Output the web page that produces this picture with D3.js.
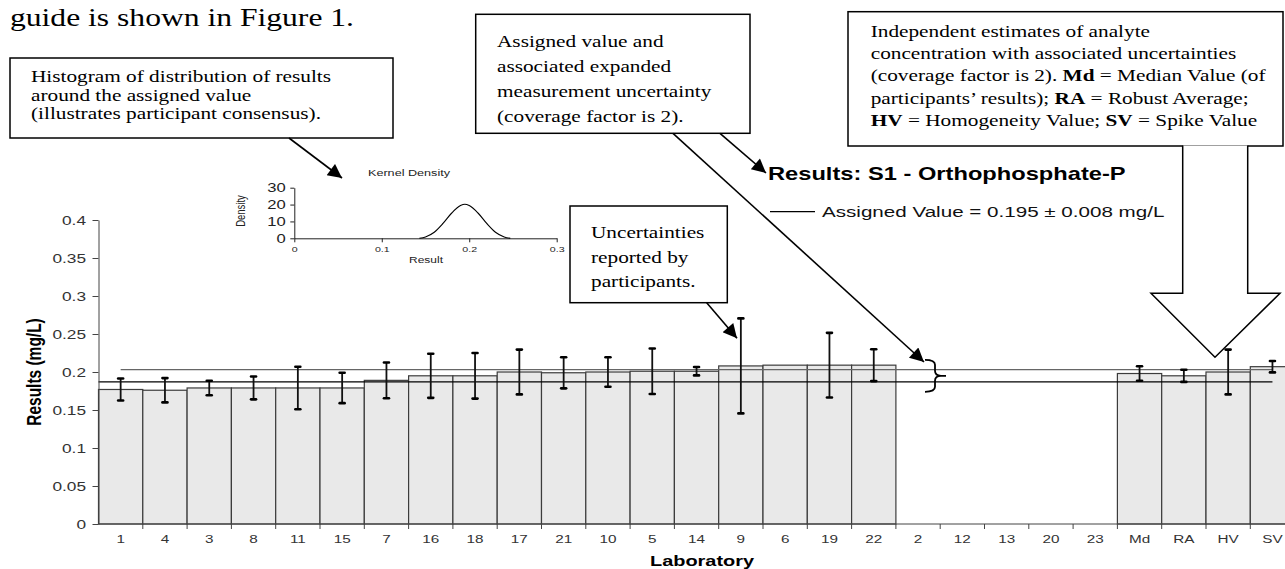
<!DOCTYPE html>
<html>
<head>
<meta charset="utf-8">
<script src="https://cdn.jsdelivr.net/npm/d3@7"></script>
<style>
  body { margin: 0; background: #fff; }
  svg { display: block; }
</style>
</head>
<body>
<svg id="chart" width="1285" height="569"></svg>
<script>
// laboratories in plotted order, results and expanded uncertainties (mg/L)
var labs = ["1","4","3","8","11","15","7","16","18","17","21","10","5","14","9","6","19","22","2","12","13","20","23","Md","RA","HV","SV"];
var results = [0.177,0.176,0.179,0.179,0.179,0.179,0.189,0.195,0.195,0.200,0.199,0.200,0.201,0.201,0.208,0.209,0.209,0.209,null,null,null,null,null,0.198,0.195,0.200,0.207];
var uncert = [0.0145,0.016,0.0095,0.015,0.028,0.020,0.0235,0.029,0.030,0.0295,0.0205,0.0195,0.030,0.0055,0.0625,null,0.0425,0.021,null,null,null,null,null,0.0095,0.008,0.0295,0.0075];
var yTicks = [0,0.05,0.1,0.15,0.2,0.25,0.3,0.35,0.4];

var assigned = 0.195;
var assignedU = 0.008;

// kernel density inset
var densX = [0.143,0.150,0.160,0.170,0.180,0.190,0.195,0.200,0.210,0.220,0.230,0.240,0.247];
var densY = [0,0.8,3.6,8.8,15.0,19.4,20.2,19.4,15.0,8.8,3.6,0.8,0];
var densXTicks = [0,0.1,0.2,0.3];
var densYTicks = [0,10,20,30];

var SANS = "'Liberation Sans', Arial, sans-serif";
var SERIF = "'Liberation Serif', 'Times New Roman', serif";
var SX = 1.33; // the source picture is stretched sideways

var svg = d3.select('#chart');
svg.append('rect').attr('width',1285).attr('height',569).attr('fill','#fff');

var defs = svg.append('defs');
defs.append('marker')
  .attr('id','ah').attr('viewBox','0 0 10 10')
  .attr('refX',10).attr('refY',5)
  .attr('markerWidth',17).attr('markerHeight',14)
  .attr('markerUnits','userSpaceOnUse')
  .attr('orient','auto')
  .append('path').attr('d','M0,0 L10,5 L0,10 z').attr('fill','#000');

function txt(g, x, y, s, o) {
  o = o || {};
  var t = g.append('text')
    .attr('transform','translate(' + x + ',' + y + ') scale(' + (o.sx || SX) + ',1)' + (o.rot ? ' rotate(' + o.rot + ')' : ''))
    .attr('font-family', o.serif ? SERIF : SANS)
    .attr('font-size', o.size || 12)
    .attr('font-weight', o.bold ? 'bold' : null)
    .attr('text-anchor', o.anchor || 'start')
    .attr('fill', o.fill || '#000');
  // "**x**" marks bold runs
  s.split('**').forEach(function(part, i) {
    if (part === '') return;
    t.append('tspan').attr('font-weight', i % 2 ? 'bold' : null).text(part);
  });
  return t;
}

// ---------- main chart ----------
var x = d3.scaleBand().domain(labs).range([98.5, 1294.6]).paddingInner(0).paddingOuter(0);
var y = d3.scaleLinear().domain([0, 0.4]).range([524, 220]);
var bw = x.bandwidth();

var idx = labs.map(function(d, i) { return i; });

svg.append('g').selectAll('rect')
  .data(idx.filter(function(i) { return results[i] !== null; }))
  .enter().append('rect')
    .attr('x', function(i) { return x(labs[i]); })
    .attr('y', function(i) { return y(results[i]); })
    .attr('width', bw)
    .attr('height', function(i) { return y(0) - y(results[i]); })
    .attr('fill', '#e9e9e9')
    .attr('stroke', '#3c3c3c')
    .attr('stroke-width', 1.2);

// assigned value band
var firstC = x(labs[0]) + bw / 2, lastC = x(labs[labs.length - 1]) + bw / 2;
svg.append('line')
  .attr('x1', firstC).attr('x2', lastC)
  .attr('y1', y(assigned + assignedU)).attr('y2', y(assigned + assignedU))
  .attr('stroke', '#666').attr('stroke-width', 1.2);
svg.append('line')
  .attr('x1', x.range()[0]).attr('x2', lastC)
  .attr('y1', y(assigned - assignedU)).attr('y2', y(assigned - assignedU))
  .attr('stroke', '#000').attr('stroke-width', 1.2);

// error bars
var eb = svg.append('g').selectAll('g')
  .data(idx.filter(function(i) { return uncert[i] !== null; }))
  .enter().append('g')
    .attr('transform', function(i) { return 'translate(' + (x(labs[i]) + bw / 2) + ',0)'; });
eb.append('line')
  .attr('y1', function(i) { return y(results[i] + uncert[i]); })
  .attr('y2', function(i) { return y(results[i] - uncert[i]); })
  .attr('stroke', '#111').attr('stroke-width', 1.8);
[1, -1].forEach(function(s) {
  eb.append('line')
    .attr('x1', -2.5).attr('x2', 2.5)
    .attr('y1', function(i) { return y(results[i] + s * uncert[i]); })
    .attr('y2', function(i) { return y(results[i] + s * uncert[i]); })
    .attr('stroke', '#000').attr('stroke-width', 2.6).attr('stroke-linecap', 'round');
});

// y axis
var yAx = svg.append('g').attr('transform', 'translate(' + x.range()[0] + ',0)')
  .call(d3.axisLeft(y).tickValues(yTicks).tickSize(6).tickSizeOuter(0).tickPadding(3.4)
    .tickFormat(function(d) { return String(+d.toFixed(2)); }));
yAx.select('.domain').attr('stroke', '#444');
yAx.selectAll('.tick line').attr('stroke', '#444');
yAx.selectAll('text')
  .attr('font-family', SANS).attr('font-size', 13).attr('fill', '#333')
  .attr('transform', 'scale(' + SX + ',1)');

// x axis
var xAx = svg.append('g').attr('transform', 'translate(0,' + y(0) + ')')
  .call(d3.axisBottom(x).tickSize(0).tickSizeOuter(0).tickPadding(11));
xAx.select('.domain').attr('stroke', '#444').attr('d', 'M' + x.range()[0] + ',0H1285');
xAx.selectAll('text')
  .attr('font-family', SANS).attr('font-size', 11.5).attr('fill', '#333')
  .attr('transform', 'scale(' + SX + ',1)');
svg.append('g').selectAll('line')
  .data(labs.slice(1))
  .enter().append('line')
    .attr('x1', function(d) { return x(d); }).attr('x2', function(d) { return x(d); })
    .attr('y1', y(0)).attr('y2', y(0) + 5)
    .attr('stroke', '#444');

txt(svg, 702, 566, 'Laboratory', { size: 15, bold: true, anchor: 'middle' });
txt(svg, 41, 372, 'Results (mg/L)', { size: 15.5, bold: true, anchor: 'middle', rot: -90 });

// title and legend
txt(svg, 768, 180, 'Results: S1 - Orthophosphate-P', { size: 17.8, bold: true });
svg.append('line').attr('x1', 770).attr('x2', 815).attr('y1', 211.7).attr('y2', 211.7)
  .attr('stroke', '#000').attr('stroke-width', 1.2);
txt(svg, 822, 217, 'Assigned Value = ' + assigned + ' \u00b1 ' + assignedU.toFixed(3) + ' mg/L', { size: 15.5, fill: '#111' });

// brace marking the assigned value
var bc = y(assigned);
svg.append('path')
  .attr('d', 'M925,' + (bc - 16) + ' Q935,' + (bc - 16) + ' 935,' + (bc - 11) +
             ' L935,' + (bc - 5) + ' Q935,' + bc + ' 941,' + bc + ' L946,' + bc +
             ' M941,' + bc + ' Q935,' + bc + ' 935,' + (bc + 5) +
             ' L935,' + (bc + 11) + ' Q935,' + (bc + 16) + ' 925,' + (bc + 16))
  .attr('fill', 'none').attr('stroke', '#000').attr('stroke-width', 1.8);

// ---------- kernel density inset ----------
var kx = d3.scaleLinear().domain([0, 0.3]).range([294.3, 556.7]);
var ky = d3.scaleLinear().domain([0, 30]).range([238.3, 187.7]);

var kxAx = svg.append('g').attr('transform', 'translate(0,' + ky(0) + ')')
  .call(d3.axisBottom(kx).tickValues(densXTicks).tickSize(4).tickSizeOuter(0).tickPadding(4)
    .tickFormat(function(d) { return String(d); }));
var kyAx = svg.append('g').attr('transform', 'translate(' + kx(0) + ',0)')
  .call(d3.axisLeft(ky).tickValues(densYTicks).tickSize(4).tickSizeOuter(0).tickPadding(2.5));
[kxAx, kyAx].forEach(function(a) {
  a.select('.domain').attr('stroke', '#222');
  a.selectAll('.tick line').attr('stroke', '#222');
  a.selectAll('text').attr('font-family', SANS).attr('fill', '#222')
    .attr('transform', 'scale(' + SX + ',1)');
});
kxAx.selectAll('text').attr('font-size', 8);
kyAx.selectAll('text').attr('font-size', 12.5);

svg.append('path')
  .datum(densX.map(function(d, i) { return [d, densY[i]]; }))
  .attr('d', d3.line().x(function(d) { return kx(d[0]); }).y(function(d) { return ky(d[1]); })
    .curve(d3.curveMonotoneX))
  .attr('fill', 'none').attr('stroke', '#000').attr('stroke-width', 1.1);

txt(svg, 409, 176, 'Kernel Density', { size: 9.5, anchor: 'middle', fill: '#222' });
txt(svg, 426, 263, 'Result', { size: 9, anchor: 'middle', fill: '#222' });
txt(svg, 244.5, 211, 'Density', { size: 9.5, anchor: 'middle', rot: -90, fill: '#222' });

// ---------- annotations ----------
txt(svg, 10, 25.5, 'guide is shown in Figure 1.', { size: 24.5, serif: true, sx: 1.29 });

function box(x0, y0, w, h, tx, lines, base, step) {
  svg.append('rect').attr('x', x0).attr('y', y0).attr('width', w).attr('height', h)
    .attr('fill', '#fff').attr('stroke', '#000').attr('stroke-width', 1.5);
  lines.forEach(function(l, i) {
    txt(svg, tx, base + i * step, l, { size: 16, serif: true });
  });
}

box(10, 58, 383, 80, 31,
  ['Histogram of distribution of results', 'around the assigned value', '(illustrates participant consensus).'],
  81.7, 18.8);
box(475.7, 14.3, 274.3, 119, 497,
  ['Assigned value and', 'associated expanded', 'measurement uncertainty', '(coverage factor is 2).'],
  46.5, 25);
box(848, 11.7, 435, 134.3, 870.7,
  ['Independent estimates of analyte',
   'concentration with associated uncertainties',
   '(coverage factor is 2). **Md** = Median Value (of',
   'participants\u2019 results); **RA** = Robust Average;',
   '**HV** = Homogeneity Value; **SV** = Spike Value'],
  36.7, 22.3);
box(570, 206, 157.3, 96.7, 591,
  ['Uncertainties', 'reported by', 'participants.'],
  238.3, 24.5);

function arrow(x1, y1, x2, y2) {
  svg.append('line').attr('x1', x1).attr('y1', y1).attr('x2', x2).attr('y2', y2)
    .attr('stroke', '#000').attr('stroke-width', 1.6).attr('marker-end', 'url(#ah)');
}
arrow(289, 138, 342, 178);
arrow(720, 133.3, 766, 173);
arrow(673, 133.3, 924, 362);
arrow(706.7, 302.7, 737, 338.3);

// block arrow down to the independent estimates
svg.append('path')
  .attr('d', 'M1182.7,145.5 L1182.7,293.3 L1151,293.3 L1215,357.3 L1280,293.3 L1247.7,293.3 L1247.7,145.5')
  .attr('fill', '#fff').attr('stroke', '#000').attr('stroke-width', 1.5);
</script>
</body>
</html>
